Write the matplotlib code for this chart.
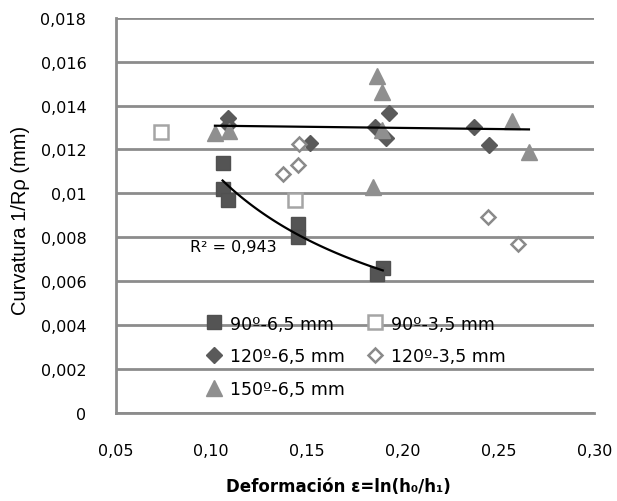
import numpy as np
import matplotlib
matplotlib.use('Agg')
import matplotlib.pyplot as plt

# Datos: deformacion (x) y curvatura 1/R (y)
x_90_65 = [0.1063, 0.1059, 0.1089, 0.1454, 0.1454, 0.1895, 0.1866]
y_90_65 = [0.0114, 0.0102, 0.0097, 0.0086, 0.0080, 0.0066, 0.0063]

x_90_35 = [0.0736, 0.1437]
y_90_35 = [0.0128, 0.0097]

x_120_65 = [0.1089, 0.1085, 0.1515, 0.1854, 0.1929, 0.1912, 0.2373, 0.2449]
y_120_65 = [0.01345, 0.0131, 0.01228, 0.0130, 0.01365, 0.01254, 0.0130, 0.0122]

x_120_35 = [0.1373, 0.1454, 0.1459, 0.2446, 0.2599]
y_120_35 = [0.0109, 0.0113, 0.01224, 0.0089, 0.0077]

x_150_65 = [0.1019, 0.1094, 0.1866, 0.1889, 0.1889, 0.1845, 0.2568, 0.2658]
y_150_65 = [0.01277, 0.01284, 0.01535, 0.0146, 0.0129, 0.0103, 0.0133, 0.0119]

x_ticks = [0.05, 0.10, 0.15, 0.20, 0.25, 0.30]
x_tick_labels = ['0,05', '0,10', '0,15', '0,20', '0,25', '0,30']
y_ticks = [0, 0.002, 0.004, 0.006, 0.008, 0.010, 0.012, 0.014, 0.016, 0.018]
y_tick_labels = ['0', '0,002', '0,004', '0,006', '0,008', '0,01', '0,012', '0,014', '0,016', '0,018']

r2_label = 'R² = 0,943'

grid_col = '#8c8c8c'

fig = plt.figure(figsize=(6.17, 5.02), dpi=100)
ax = fig.add_axes([0.1872, 0.1761, 0.7763, 0.7864])

# Series
h1, = ax.plot(x_90_65, y_90_65, 's', ms=10.5, color='#545454', mec='#505050', label='90º-6,5 mm', zorder=3)
h2, = ax.plot(x_90_35, y_90_35, 's', ms=9.5, mfc='white', mec='#a5a5a5', mew=1.8, label='90º-3,5 mm', zorder=3)
h3, = ax.plot(x_120_65, y_120_65, 'D', ms=8, color='#5a5a5a', label='120º-6,5 mm', zorder=3)
h4, = ax.plot(x_120_35, y_120_35, 'D', ms=7.5, mfc='white', mec='#8a8a8a', mew=1.8, label='120º-3,5 mm', zorder=3)
h5, = ax.plot(x_150_65, y_150_65, '^', ms=11.5, color='#8f8f8f', label='150º-6,5 mm', zorder=3)

# Lineas de tendencia: potencial para 90º-6,5 y lineal para 150º-6,5
b, log_a = np.polyfit(np.log(x_90_65), np.log(y_90_65), 1)
xp = np.linspace(min(x_90_65), max(x_90_65), 100)
ax.plot(xp, np.exp(log_a) * xp ** b, color='black', lw=1.6, zorder=4)

m, c = np.polyfit(x_150_65, y_150_65, 1)
xl = np.array([min(x_150_65), max(x_150_65)])
ax.plot(xl, m * xl + c, color='black', lw=1.6, zorder=4)

ax.text(0.0889, 0.00759, r2_label, ha='left', va='center', fontsize=11.5, zorder=5)

# Ejes
ax.set_xlim(0.05, 0.30)
ax.set_ylim(0, 0.018)
ax.set_xticks(x_ticks)
ax.set_xticklabels(x_tick_labels)
ax.set_yticks(y_ticks)
ax.set_yticklabels(y_tick_labels)
ax.tick_params(length=0, labelsize=11.5)
ax.tick_params(axis='x', pad=22)
ax.tick_params(axis='y', pad=21)

ax.grid(axis='y', color=grid_col, lw=2)
ax.set_axisbelow(True)
for s in ['top', 'right']:
    ax.spines[s].set_visible(False)
for s in ['left', 'bottom']:
    ax.spines[s].set_color(grid_col)
    ax.spines[s].set_linewidth(2)

ax.set_ylabel('Curvatura 1/Rρ (mm)', fontsize=14.5, family='Liberation Sans')
ax.yaxis.set_label_coords(-0.178, 0.49)
ax.set_xlabel('Deformación ε=ln(h₀/h₁)', fontsize=12, fontweight='bold')
ax.xaxis.set_label_coords(0.4645, -0.162)

# Leyenda por filas: el orden de columnas de matplotlib lo pide asi
leg = ax.legend([h1, h3, h5, h2, h4], [h.get_label() for h in [h1, h3, h5, h2, h4]],
                loc='upper left', bbox_to_anchor=(0.155, 0.288), ncol=2, frameon=False,
                fontsize=12.5, handlelength=1.0, handletextpad=0.4, columnspacing=1.25,
                labelspacing=0.85, borderpad=0.4)

fig.savefig('out.png', dpi=100)
